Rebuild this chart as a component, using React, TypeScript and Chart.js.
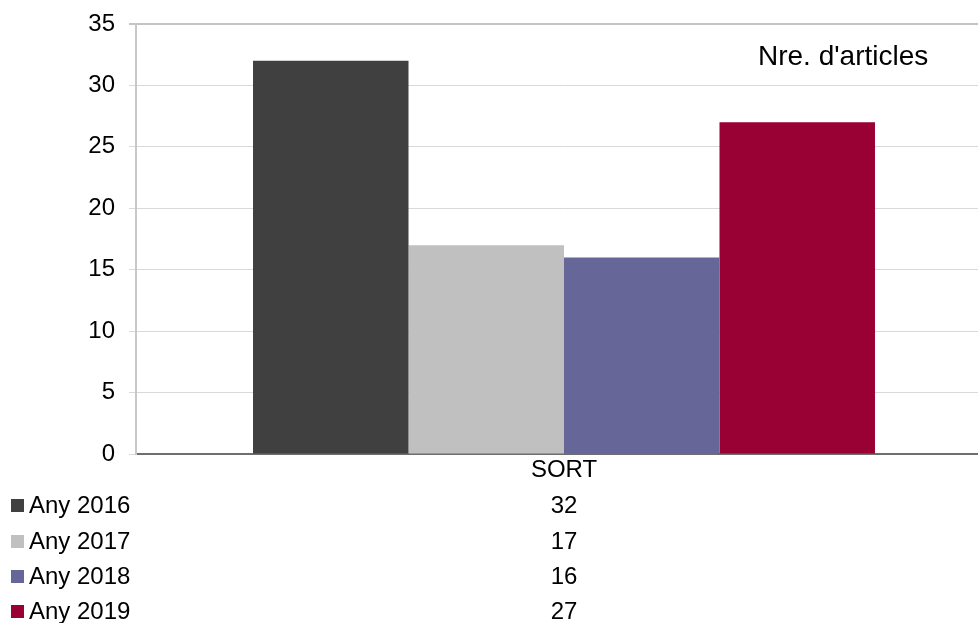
import React, { useEffect, useRef } from "react";
import { Chart, registerables } from "chart.js";

Chart.register(...registerables);

const categories = ["SORT"];
const seriesLabels = ["Any 2016", "Any 2017", "Any 2018", "Any 2019"];
const seriesValues = [[32], [17], [16], [27]];
const seriesColors = ["#404040", "#c0c0c0", "#666699", "#990033"];
const chartTitle = "Nre. d'articles";
const yMin = 0;
const yMax = 35;
const yStep = 5;

const FONT = "'Liberation Sans', Arial, sans-serif";

const tablePlugin = {
  id: "dataTable",
  afterDraw(chart: any) {
    const ctx = chart.ctx;
    const xs = chart.scales.x;
    ctx.save();
    ctx.fillStyle = "#000";
    ctx.font = `24px ${FONT}`;
    ctx.textBaseline = "middle";
    ctx.textAlign = "center";
    categories.forEach((c, i) => {
      ctx.fillText(c, xs.getPixelForValue(i), 470);
    });
    const rowY = [506, 542, 577, 612];
    seriesLabels.forEach((lab, si) => {
      const y = rowY[si];
      ctx.fillStyle = seriesColors[si];
      ctx.fillRect(11, y - 7, 13, 13);
      ctx.fillStyle = "#000";
      ctx.textAlign = "left";
      ctx.fillText(lab, 29, y);
      ctx.textAlign = "center";
      seriesValues[si].forEach((v, ci) => {
        ctx.fillText(String(v), xs.getPixelForValue(ci), y);
      });
    });
    ctx.font = `28px ${FONT}`;
    ctx.textAlign = "left";
    ctx.textBaseline = "alphabetic";
    ctx.fillText(chartTitle, 758, 65);
    ctx.restore();
  },
};

export default function App() {
  const ref = useRef<HTMLCanvasElement>(null);
  useEffect(() => {
    if (!ref.current) return;
    const chart = new Chart(ref.current, {
      type: "bar",
      data: {
        labels: categories,
        datasets: seriesLabels.map((l, i) => ({
          label: l,
          data: seriesValues[i],
          backgroundColor: seriesColors[i],
          borderWidth: 0,
          barPercentage: 1,
          categoryPercentage: 0.7266,
        })),
      },
      options: {
        responsive: false,
        animation: false,
        devicePixelRatio: 1,
        layout: { padding: { top: 24, left: 0, right: 8, bottom: 0 } },
        plugins: {
          legend: { display: false },
          tooltip: { enabled: false },
          title: { display: false },
        },
        scales: {
          x: {
            grid: { display: false },
            border: { display: true, color: "#6e6e6e", width: 2 },
            ticks: { display: false },
            afterFit: (s: any) => {
              s.height = 169;
              s.paddingLeft = 0;
              s.paddingRight = 0;
            },
          },
          y: {
            min: yMin,
            max: yMax,
            ticks: {
              stepSize: yStep,
              color: "#000",
              font: { family: FONT, size: 24 },
              padding: 14,
            },
            grid: {
              color: (c: any) => (c.tick && c.tick.value === yMax ? "#c4c4c4" : "#d9d9d9"),
              lineWidth: (c: any) => (c.tick && c.tick.value === yMax ? 2 : 1),
              tickLength: 7,
            },
            border: { display: true, color: "#c8c8c8", width: 2 },
            afterFit: (s: any) => {
              s.width = 136;
              s.paddingTop = 0;
              s.paddingBottom = 0;
            },
          },
        },
      },
      plugins: [tablePlugin],
    });
    return () => chart.destroy();
  }, []);
  return (
    <div style={{ position: "fixed", left: 0, top: 0, width: 1000, height: 623, background: "#fff" }}>
      <canvas ref={ref} width={1000} height={623} style={{ display: "block" }} />
    </div>
  );
}
